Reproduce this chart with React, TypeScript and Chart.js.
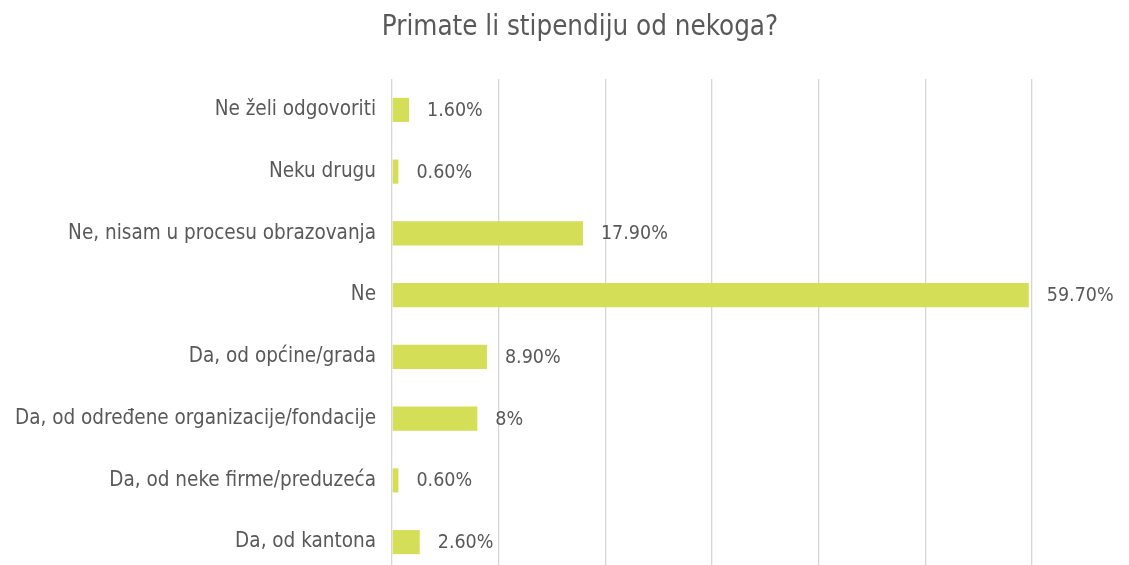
import React, { useEffect, useRef } from "react";
import { Chart, registerables } from "chart.js";

Chart.register(...registerables);

const titleText = "Primate li stipendiju od nekoga?";
const categories = [
  "Ne želi odgovoriti",
  "Neku drugu",
  "Ne, nisam u procesu obrazovanja",
  "Ne",
  "Da, od općine/grada",
  "Da, od određene organizacije/fondacije",
  "Da, od neke firme/preduzeća",
  "Da, od kantona",
];
const values = [1.6, 0.6, 17.9, 59.7, 8.9, 8, 0.6, 2.6];
const xTicks = { min: 0, max: 60, step: 10 };

const FONT = "'DejaVu Sans Condensed', 'Liberation Sans Narrow', 'Roboto', sans-serif";
const TEXT = "#595959";

const fmt = (v: number) => (Number.isInteger(v) ? `${v}%` : `${v.toFixed(2)}%`);

export default function App() {
  const ref = useRef<HTMLCanvasElement | null>(null);
  useEffect(() => {
    if (!ref.current) return;
    const titlePlugin = {
      id: "customTitle",
      afterDraw(chart: any) {
        const ctx = chart.ctx;
        ctx.save();
        ctx.font = `27.5px ${FONT}`;
        ctx.fillStyle = TEXT;
        ctx.textAlign = "center";
        ctx.textBaseline = "middle";
        ctx.fillText(titleText, 580, 28);
        ctx.restore();
      },
    };
    const labelPlugin = {
      id: "valueLabels",
      afterDatasetsDraw(chart: any) {
        const ctx = chart.ctx;
        const meta = chart.getDatasetMeta(0);
        ctx.save();
        ctx.font = `19.5px ${FONT}`;
        ctx.fillStyle = TEXT;
        ctx.textAlign = "left";
        ctx.textBaseline = "middle";
        meta.data.forEach((bar: any, i: number) => {
          ctx.fillText(fmt(values[i]), bar.x + 18, bar.y + 1);
        });
        ctx.restore();
      },
    };
    const chart = new Chart(ref.current, {
      type: "bar",
      data: {
        labels: categories,
        datasets: [
          {
            data: values,
            backgroundColor: "#d4de56",
            borderWidth: 0,
            categoryPercentage: 1,
            barPercentage: 0.39,
          },
        ],
      },
      options: {
        indexAxis: "y",
        animation: false,
        responsive: false,
        maintainAspectRatio: false,
        layout: { padding: { top: 79, right: 97, left: 0, bottom: 0 } },
        plugins: {
          legend: { display: false },
          title: { display: false },
          tooltip: { enabled: false },
        },
        scales: {
          x: {
            min: xTicks.min,
            max: xTicks.max,
            ticks: { stepSize: xTicks.step, display: false },
            grid: { color: "#d6d6d6", lineWidth: 1.3, drawTicks: false },
            border: { display: false },
            afterFit(scale: any) {
              scale.height = 0;
              scale.paddingLeft = 0;
              scale.paddingRight = 0;
            },
          },
          y: {
            grid: { display: false, drawTicks: false },
            border: { display: false },
            ticks: {
              color: TEXT,
              font: { family: FONT, size: 20.5 },
              padding: 16,
              autoSkip: false,
            },
            afterFit(scale: any) {
              scale.width = 392;
              scale.paddingTop = 0;
              scale.paddingBottom = 0;
            },
          },
        },
      },
      plugins: [titlePlugin, labelPlugin],
    });
    return () => chart.destroy();
  }, []);
  return (
    <div
      style={{
        position: "fixed",
        top: 0,
        left: 0,
        width: 1129,
        height: 565,
        overflow: "hidden",
        background: "#fff",
      }}
    >
      <canvas ref={ref} width={1129} height={573} style={{ display: "block", width: 1129, height: 573 }} />
    </div>
  );
}
